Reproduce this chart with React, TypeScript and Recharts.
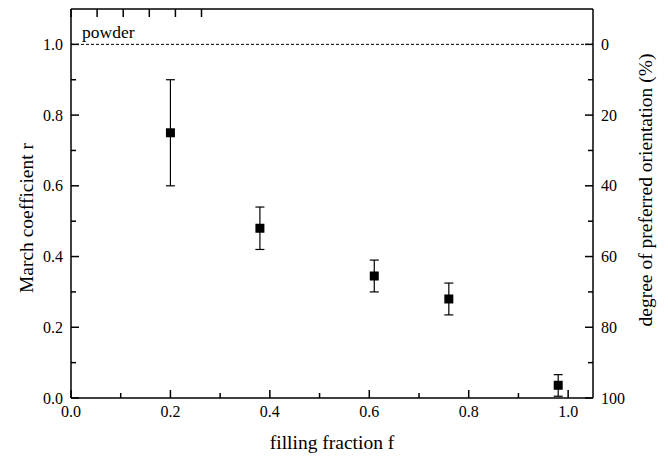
import React from 'react';
import {
  ComposedChart,
  Scatter,
  ErrorBar,
  XAxis,
  YAxis,
  ReferenceLine,
} from 'recharts';

// filling fraction f
const fillingFraction = [0.2, 0.38, 0.61, 0.76, 0.98];
// March coefficient r
const marchCoeff = [0.75, 0.48, 0.345, 0.28, 0.036];
// error bar limits
const errLow = [0.6, 0.42, 0.3, 0.235, 0.005];
const errHigh = [0.9, 0.54, 0.39, 0.325, 0.066];

const xTicks = [0, 0.1, 0.2, 0.3, 0.4, 0.5, 0.6, 0.7, 0.8, 0.9, 1.0];
const yTicks = [0, 0.1, 0.2, 0.3, 0.4, 0.5, 0.6, 0.7, 0.8, 0.9, 1.0];
const powderLevel = 1.0;

const data = fillingFraction.map((f, i) => ({
  f,
  r: marchCoeff[i],
  err: [marchCoeff[i] - errLow[i], errHigh[i] - marchCoeff[i]],
}));

const FONT = '"Liberation Serif", "Times New Roman", serif';
const W = 668;
const H = 457;

const isMajor = (v: number) => Math.round(v * 10) % 2 === 0;

// ticks point inward, so they are drawn by hand
const BottomTick = ({ x, y, payload }: any) => {
  const len = isMajor(payload.value) ? 8 : 5;
  return (
    <g>
      <line x1={x} x2={x} y1={y} y2={y - len} stroke="#000" strokeWidth={1.5} />
      {isMajor(payload.value) && (
        <text x={x} y={y + 19} textAnchor="middle" fontFamily={FONT} fontSize={16} fill="#000">
          {payload.value.toFixed(1)}
        </text>
      )}
    </g>
  );
};

const TopTick = ({ x, y, payload }: any) => {
  const len = isMajor(payload.value) ? 8 : 5;
  return <line x1={x} x2={x} y1={y} y2={y + len} stroke="#000" strokeWidth={1.5} />;
};

const LeftTick = ({ x, y, payload }: any) => {
  const len = isMajor(payload.value) ? 8 : 5;
  return (
    <g>
      <line x1={x} x2={x + len} y1={y} y2={y} stroke="#000" strokeWidth={1.5} />
      {isMajor(payload.value) && (
        <text x={x - 8} y={y + 5.5} textAnchor="end" fontFamily={FONT} fontSize={16} fill="#000">
          {payload.value.toFixed(1)}
        </text>
      )}
    </g>
  );
};

const RightTick = ({ x, y, payload }: any) => {
  const len = isMajor(payload.value) ? 8 : 5;
  return (
    <g>
      <line x1={x} x2={x - len} y1={y} y2={y} stroke="#000" strokeWidth={1.5} />
      {isMajor(payload.value) && (
        <text x={x + 8} y={y + 5.5} textAnchor="start" fontFamily={FONT} fontSize={16} fill="#000">
          {Math.round((1 - payload.value) * 100)}
        </text>
      )}
    </g>
  );
};

const SquareMarker = ({ cx, cy }: any) => (
  <rect x={cx - 4.5} y={cy - 4.5} width={9} height={9} fill="#000" />
);

export default function App() {
  return (
    <div style={{ position: 'absolute', left: 0, top: 0, width: W, height: H, background: '#fff' }}>
      <ComposedChart
        width={W}
        height={H}
        data={data}
        margin={{ top: 0, right: 0, bottom: 0, left: 0 }}
      >
        <XAxis
          xAxisId="bottom"
          dataKey="f"
          type="number"
          domain={[0, 1.05]}
          ticks={xTicks}
          height={59}
          tickSize={0}
          tickMargin={0}
          tickLine={false}
          tick={<BottomTick />}
          axisLine={{ stroke: '#000', strokeWidth: 1.5 }}
          allowDataOverflow
        />
        <XAxis
          xAxisId="top"
          orientation="top"
          type="number"
          domain={[0, 1.05]}
          ticks={xTicks}
          height={9}
          tickSize={0}
          tickMargin={0}
          tickLine={false}
          tick={<TopTick />}
          axisLine={{ stroke: '#000', strokeWidth: 1.5 }}
          allowDataOverflow
        />
        <YAxis
          yAxisId="left"
          dataKey="r"
          type="number"
          domain={[0, 1.1]}
          ticks={yTicks}
          width={71}
          tickSize={0}
          tickMargin={0}
          tickLine={false}
          tick={<LeftTick />}
          axisLine={{ stroke: '#000', strokeWidth: 1.5 }}
          allowDataOverflow
        />
        <YAxis
          yAxisId="right"
          orientation="right"
          type="number"
          domain={[0, 1.1]}
          ticks={yTicks}
          width={75}
          tickSize={0}
          tickMargin={0}
          tickLine={false}
          tick={<RightTick />}
          axisLine={{ stroke: '#000', strokeWidth: 1.5 }}
          allowDataOverflow
        />
        <ReferenceLine
          xAxisId="bottom"
          yAxisId="left"
          y={powderLevel}
          stroke="#000"
          strokeWidth={1}
          strokeDasharray="3 2"
          label={(props: any) => {
            const vb = props.viewBox || {};
            return (
              <text x={(vb.x ?? 71) + 11} y={(vb.y ?? 44) - 6} fontFamily={FONT} fontSize={17.5} fill="#000">
                powder
              </text>
            );
          }}
        />
        <Scatter
          xAxisId="bottom"
          yAxisId="left"
          dataKey="r"
          fill="#000"
          shape={<SquareMarker />}
          isAnimationActive={false}
        >
          <ErrorBar dataKey="err" direction="y" width={4.5} stroke="#000" strokeWidth={1.2} />
        </Scatter>
        <text
          x={332}
          y={449}
          textAnchor="middle"
          fontFamily={FONT}
          fontSize={19.5}
          fill="#000"
        >
          filling fraction f
        </text>
        <text
          x={33}
          y={218}
          textAnchor="middle"
          transform="rotate(-90, 33, 218)"
          fontFamily={FONT}
          fontSize={19.5}
          fill="#000"
        >
          March coefficient r
        </text>
        <text
          x={652}
          y={190}
          textAnchor="middle"
          transform="rotate(-90, 652, 190)"
          fontFamily={FONT}
          fontSize={19.5}
          fill="#000"
        >
          degree of preferred orientation (%)
        </text>
      </ComposedChart>
    </div>
  );
}
